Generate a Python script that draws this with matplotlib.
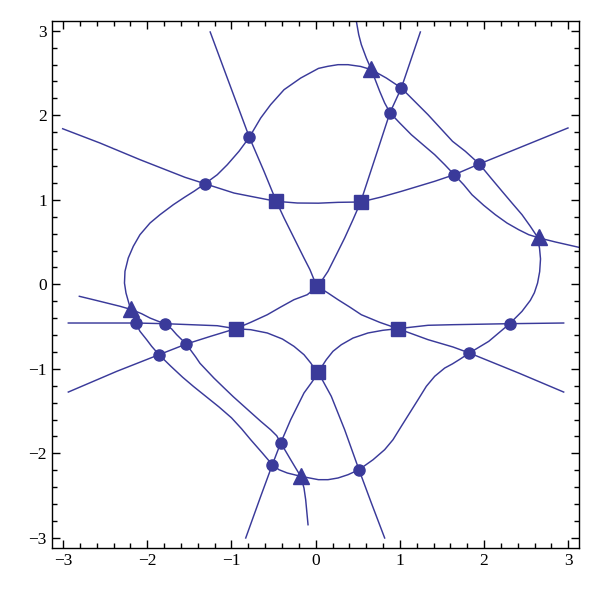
import matplotlib
matplotlib.use("Agg")
from matplotlib import pyplot as plt
from matplotlib.ticker import MultipleLocator

COLOR = "#3a3a9a"

# curve A: upper arch through the two top squares
a_x = [-3.005, -2.562, -2.087, -1.552, -1.315, -0.970, -0.772, -0.468, -0.218, 0.033, 0.265, 0.534, 0.779,
       1.017, 1.413, 1.645, 1.943, 2.411, 2.996]
a_y = [1.841, 1.672, 1.475, 1.266, 1.190, 1.080, 1.041, 0.982, 0.962, 0.960, 0.970, 0.974, 1.033,
       1.100, 1.219, 1.297, 1.424, 1.613, 1.850]

# curve B1: top left -> origin -> lower right
b1_x = [-1.253, -1.050, -0.788, -0.614, -0.468, -0.376, -0.297, -0.218, -0.139, -0.068, -0.012, 0.020,
        0.146, 0.265, 0.404, 0.542, 0.760, 0.977, 1.334, 1.631, 1.825, 2.411, 2.945]
b1_y = [2.986, 2.441, 1.740, 1.337, 0.982, 0.785, 0.627, 0.469, 0.311, 0.173, 0.036, -0.025,
        -0.103, -0.182, -0.269, -0.360, -0.450, -0.525, -0.655, -0.742, -0.813, -1.050, -1.275]

# curve B2: top right -> origin -> lower left
b2_x = [1.243, 1.017, 0.882, 0.732, 0.534, 0.443, 0.344, 0.245, 0.146, 0.067, 0.020, -0.100, -0.258,
        -0.416, -0.575, -0.772, -0.950, -1.247, -1.538, -1.861, -2.363, -2.938]
b2_y = [2.986, 2.323, 2.031, 1.574, 0.974, 0.765, 0.548, 0.350, 0.154, 0.036, -0.025, -0.123, -0.182,
        -0.269, -0.360, -0.450, -0.525, -0.615, -0.707, -0.833, -1.030, -1.275]

# curve C1: left horizontal -> bottom square -> lower right leg
c1_x = [-2.938, -2.138, -1.793, -1.558, -1.169, -0.950, -0.772, -0.575, -0.396, -0.258, -0.139, -0.059,
        -0.012, 0.030, 0.100, 0.185, 0.344, 0.514, 0.661, 0.819]
c1_y = [-0.458, -0.458, -0.466, -0.475, -0.490, -0.525, -0.537, -0.576, -0.647, -0.734, -0.833, -0.931,
        -1.002, -1.041, -1.170, -1.325, -1.721, -2.194, -2.588, -3.002]

# curve C2: right horizontal -> bottom square -> lower left leg
c2_x = [2.945, 2.304, 1.625, 1.334, 0.977, 0.799, 0.621, 0.443, 0.304, 0.205, 0.126, 0.075, 0.030,
        -0.040, -0.139, -0.297, -0.416, -0.515, -0.653, -0.831]
c2_y = [-0.458, -0.466, -0.478, -0.485, -0.525, -0.544, -0.576, -0.636, -0.715, -0.793, -0.892, -0.970, -1.041,
        -1.150, -1.286, -1.602, -1.878, -2.135, -2.509, -3.002]

# curve D: upper right, touching the loop at two triangles
d_x = [0.483, 0.511, 0.542, 0.601, 0.661, 0.760, 0.819, 0.882, 0.998, 1.136, 1.274, 1.413, 1.532, 1.645,
       1.757, 1.856, 1.995, 2.133, 2.272, 2.411, 2.530, 2.656, 2.846, 3.124]
d_y = [3.112, 2.954, 2.836, 2.678, 2.540, 2.284, 2.146, 2.031, 1.909, 1.770, 1.652, 1.534, 1.416, 1.297,
       1.179, 1.060, 0.935, 0.824, 0.725, 0.646, 0.587, 0.548, 0.501, 0.438]

# curve F: lower left, touching the loop at two triangles
f_x = [-2.807, -2.641, -2.482, -2.324, -2.185, -2.067, -1.968, -1.869, -1.793, -1.710, -1.651, -1.538,
       -1.425, -1.374, -1.208, -1.089, -0.979, -0.772, -0.653, -0.535, -0.463, -0.416, -0.356, -0.297,
       -0.238, -0.178, -0.139, -0.119, -0.091]
f_y = [-0.142, -0.182, -0.221, -0.260, -0.300, -0.348, -0.399, -0.438, -0.466, -0.529, -0.596, -0.707,
       -0.860, -0.935, -1.110, -1.225, -1.330, -1.515, -1.621, -1.721, -1.792, -1.878, -1.976, -2.076,
       -2.174, -2.272, -2.411, -2.549, -2.845]

# curve E: closed loop
e_x = [-0.788, -0.653, -0.535, -0.376, -0.178, 0.033, 0.146, 0.265, 0.384, 0.534, 0.661, 0.839, 1.017,
       1.334, 1.625, 1.777, 1.943, 2.074, 2.213, 2.331, 2.450, 2.549, 2.628, 2.658, 2.670, 2.660, 2.635,
       2.597, 2.549, 2.450, 2.304, 2.173, 2.055, 1.825, 1.717, 1.625, 1.532, 1.413, 1.314, 1.215, 1.116,
       1.017, 0.918, 0.819, 0.681, 0.514, 0.384, 0.265, 0.146, 0.033, -0.178, -0.337, -0.436, -0.515,
       -0.634, -0.772, -0.880, -1.000, -1.150, -1.300, -1.450, -1.580, -1.720, -1.861, -1.948, -2.007,
       -2.087, -2.138, -2.197, -2.253, -2.271, -2.265, -2.226, -2.166, -2.087, -1.968, -1.849, -1.691,
       -1.558, -1.445, -1.315, -1.169, -1.050, -0.911, -0.788]
e_y = [1.740, 1.968, 2.126, 2.303, 2.441, 2.555, 2.580, 2.599, 2.599, 2.578, 2.540, 2.441, 2.323,
       2.007, 1.692, 1.574, 1.424, 1.266, 1.101, 0.962, 0.824, 0.686, 0.568, 0.430, 0.300, 0.150, 0.015,
       -0.100, -0.190, -0.320, -0.466, -0.576, -0.675, -0.813, -0.884, -0.941, -0.991, -1.089, -1.207,
       -1.366, -1.523, -1.680, -1.839, -1.957, -2.076, -2.194, -2.253, -2.292, -2.312, -2.312, -2.272,
       -2.233, -2.194, -2.135, -1.996, -1.839, -1.710, -1.580, -1.450, -1.330, -1.210, -1.100, -0.970,
       -0.833, -0.734, -0.656, -0.556, -0.458, -0.300, -0.103, 0.015, 0.154, 0.311, 0.450, 0.587, 0.725,
       0.824, 0.942, 1.030, 1.101, 1.190, 1.297, 1.415, 1.574, 1.740]

square_x = [-0.468, 0.534, 0.020, -0.950, 0.977, 0.030]
square_y = [0.982, 0.974, -0.025, -0.525, -0.525, -1.041]

triangle_x = [0.661, 2.650, -2.190, -0.178]
triangle_y = [2.550, 0.560, -0.290, -2.272]

circle_x = [-0.788, -1.315, 0.882, 1.017, 1.645, 1.943, 2.304, 1.825, 0.514, -0.416, -0.515, -2.138, -1.793, -1.538, -1.861]
circle_y = [1.740, 1.190, 2.031, 2.323, 1.297, 1.424, -0.466, -0.813, -2.194, -1.878, -2.135, -0.458, -0.466, -0.707, -0.833]

plt.rcParams["font.family"] = ["Liberation Serif", "DejaVu Serif"]

fig = plt.figure(figsize=(6, 5.98), dpi=100)
ax = fig.add_axes([0.0862, 0.0841, 0.8788, 0.8808])

for xs, ys in [(a_x, a_y), (b1_x, b1_y), (b2_x, b2_y), (c1_x, c1_y), (c2_x, c2_y),
               (d_x, d_y), (f_x, f_y), (e_x, e_y)]:
    ax.plot(xs, ys, color=COLOR, lw=1.05, solid_joinstyle="round")

ax.plot(square_x, square_y, "s", color=COLOR, ms=10.5, mec=COLOR, ls="none")
ax.plot(triangle_x, triangle_y, "^", color=COLOR, ms=12, mec=COLOR, ls="none")
ax.plot(circle_x, circle_y, "o", color=COLOR, ms=8, mec=COLOR, ls="none")

ax.set_xlim(-3.135, 3.127)
ax.set_ylim(-3.117, 3.116)
ax.xaxis.set_major_locator(MultipleLocator(1))
ax.yaxis.set_major_locator(MultipleLocator(1))
ax.xaxis.set_minor_locator(MultipleLocator(0.2))
ax.yaxis.set_minor_locator(MultipleLocator(0.2))
ax.tick_params(which="both", direction="in", top=True, right=True, width=1.0, labelsize=12.5)
ax.tick_params(which="major", length=6)
ax.tick_params(which="minor", length=3.5)
for s in ax.spines.values():
    s.set_linewidth(1.0)

fig.savefig("out.png", dpi=100)
